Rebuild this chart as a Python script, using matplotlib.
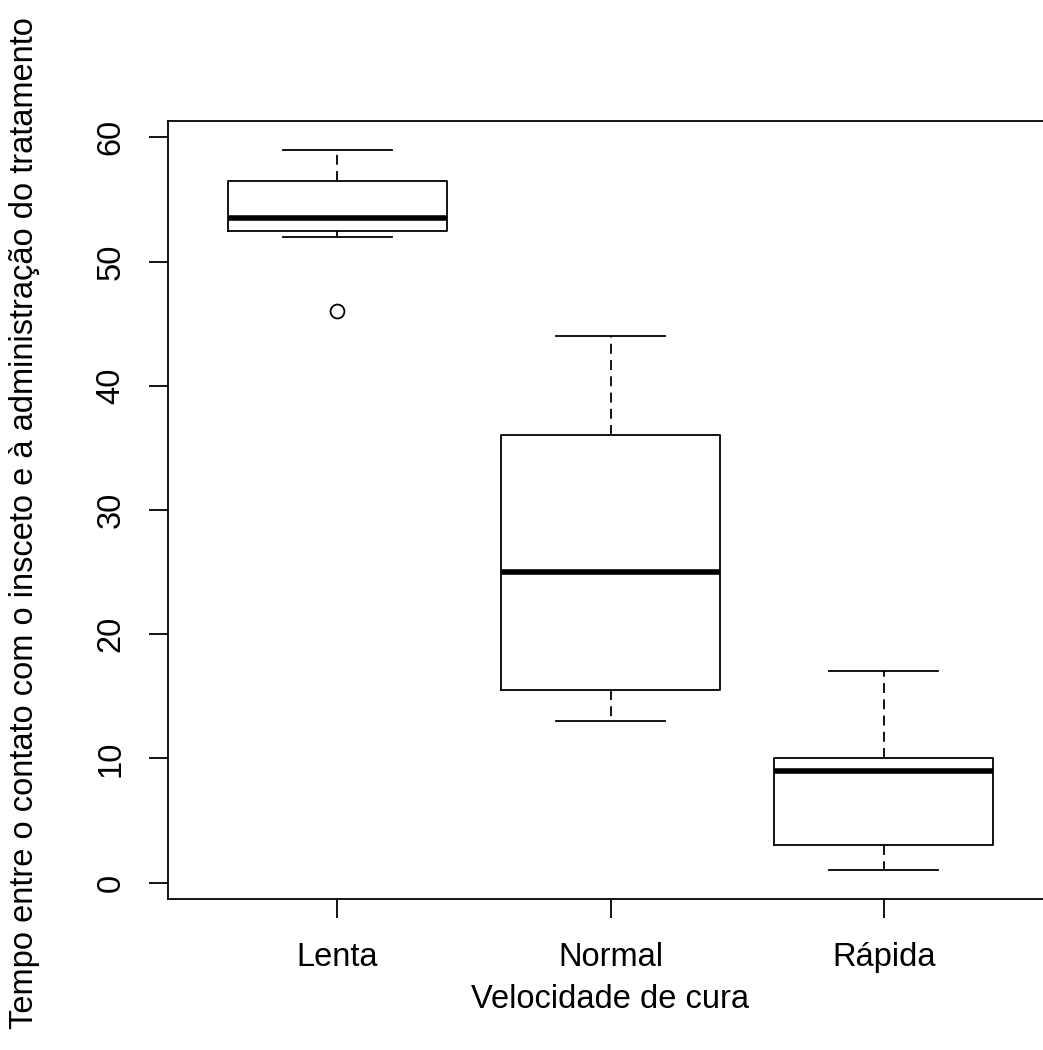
# Boxplot do tempo ate o tratamento por velocidade de cura
import numpy as np
import matplotlib.pyplot as plt

plt.rcParams['font.family'] = ['Liberation Sans', 'DejaVu Sans']

grupos = ['Lenta', 'Normal', 'Rápida']
# estatisticas de cada caixa: bigode inferior, Q1, mediana, Q3, bigode superior
bigode_inf = [52, 13, 1]
q1 = [52.5, 15.5, 3]
mediana = [53.5, 25, 9]
q3 = [56.5, 36, 10]
bigode_sup = [59, 44, 17]
outliers = [[46], [], []]

stats = []
for i, g in enumerate(grupos):
    stats.append({'label': g, 'whislo': bigode_inf[i], 'q1': q1[i], 'med': mediana[i],
                  'q3': q3[i], 'whishi': bigode_sup[i], 'fliers': outliers[i]})

fig = plt.figure(figsize=(10.43, 10.5), dpi=100)
ax = fig.add_axes([168 / 1043, 151 / 1050, 885 / 1043, 778 / 1050])

lw = 1.3
fs = 23.5
ax.bxp(stats, positions=[1, 2, 3], widths=0.8, capwidths=0.4, showfliers=True,
       boxprops=dict(color='black', linewidth=lw),
       medianprops=dict(color='black', linewidth=4.0, solid_capstyle='butt'),
       whiskerprops=dict(color='black', linewidth=lw, linestyle=(0, (5.5, 3.5))),
       capprops=dict(color='black', linewidth=lw),
       flierprops=dict(marker='o', markersize=10, markerfacecolor='none',
                       markeredgecolor='black', markeredgewidth=1.3))

ax.set_xlim(0.38, 3.62)
ax.set_ylim(-1.32, 61.32)
ax.set_yticks(np.arange(0, 61, 10))
ax.set_xticks([1, 2, 3])
ax.set_xticklabels(grupos)

for s in ax.spines.values():
    s.set_linewidth(lw)
ax.tick_params(axis='both', direction='out', length=13.7, width=lw, labelsize=fs,
               colors='black')
ax.tick_params(axis='y', pad=16)
ax.tick_params(axis='x', pad=17)
for lab in ax.get_yticklabels():
    lab.set_rotation(90)
    lab.set_va('center')

fig.text(610 / 1043, 1 - 1000 / 1050, 'Velocidade de cura', ha='center', va='center',
         fontsize=fs)
fig.text(25 / 1043, 1 - 523 / 1050,
         'Tempo entre o contato com o insceto e à administração do tratamento',
         rotation=90, ha='center', va='center', fontsize=fs)

plt.savefig('out.png', dpi=100)
